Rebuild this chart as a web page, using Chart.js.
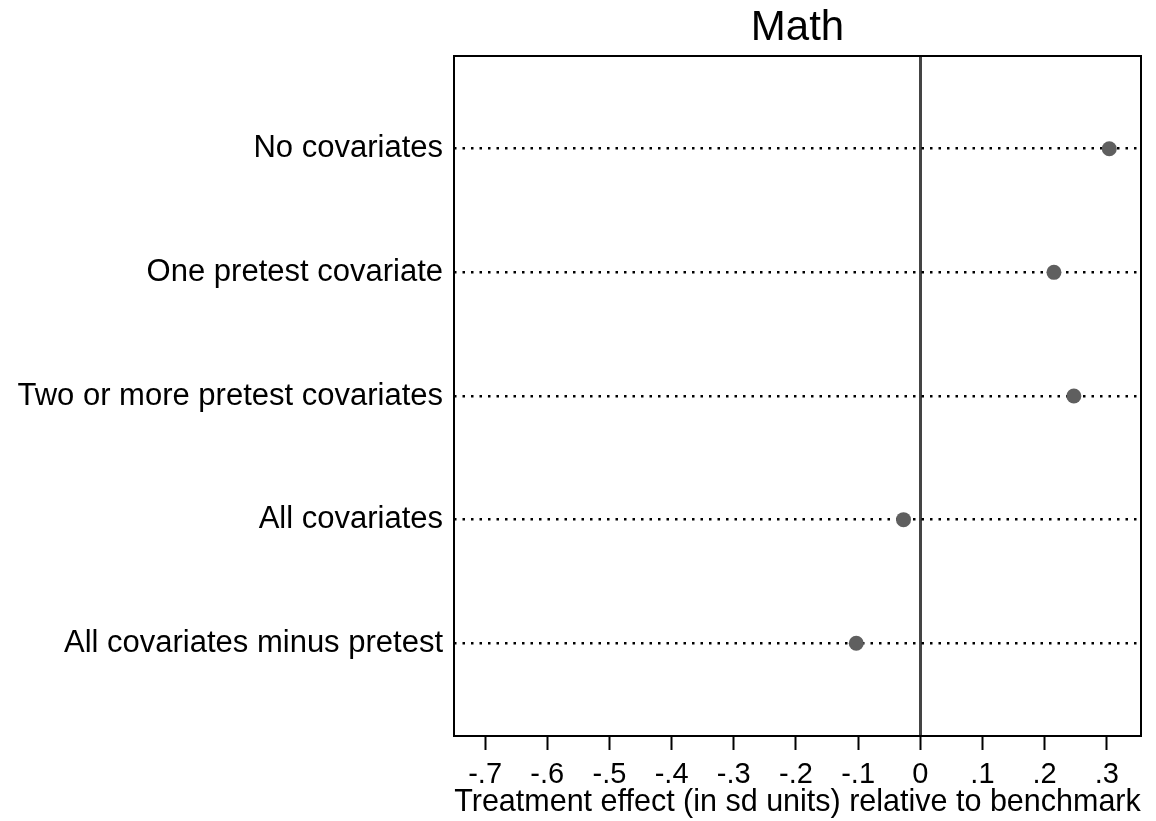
<!DOCTYPE html>
<html>
<head>
<meta charset="utf-8">
<script src="https://cdn.jsdelivr.net/npm/chart.js@4/dist/chart.umd.min.js"></script>
<style>
  body { margin: 0; background: #fff; }
  #wrap { width: 1156px; height: 821px; }
</style>
</head>
<body>
<div id="wrap"><canvas id="chart"></canvas></div>
<script>
// Specifications, top to bottom
const categories = [
    'No covariates',
    'One pretest covariate',
    'Two or more pretest covariates',
    'All covariates',
    'All covariates minus pretest'
];
// Treatment effect (sd units) relative to benchmark
const effects = [0.304, 0.215, 0.247, -0.027, -0.103];
const xTicks = [-0.7, -0.6, -0.5, -0.4, -0.3, -0.2, -0.1, 0, 0.1, 0.2, 0.3];

const FONT = '"Liberation Sans", Arial, Helvetica, sans-serif';

// Stata-style ".3" / "-.7" labels
function stataNum(v) {
    if (v === 0) return '0';
    const s = (Math.round(v * 10) / 10).toString();
    return s.replace('0.', '.');
}

// Full box around the plot region
const boxPlugin = {
    id: 'plotBox',
    beforeDatasetsDraw(chart) {
        const {ctx, chartArea: a} = chart;
        ctx.save();
        ctx.strokeStyle = '#000';
        ctx.lineWidth = 2;
        ctx.strokeRect(a.left, a.top, a.right - a.left, a.bottom - a.top);
        ctx.restore();
    }
};

const points = effects.map((v, i) => ({x: v, y: i + 1}));

new Chart(document.getElementById('chart').getContext('2d'), {
    type: 'scatter',
    data: {
        datasets: [{
            data: points,
            backgroundColor: '#5f5f5f',
            borderWidth: 0,
            pointRadius: 7.5
        }]
    },
    options: {
        responsive: true,
        maintainAspectRatio: false,
        animation: false,
        layout: { padding: { left: 0, right: 15, top: 0, bottom: 0 } },
        plugins: {
            legend: { display: false },
            tooltip: { enabled: false },
            title: {
                display: true,
                text: 'Math',
                fullSize: false,
                color: '#000',
                font: { family: FONT, size: 42, weight: 'normal' },
                padding: { top: 3, bottom: 2.6 }
            }
        },
        scales: {
            x: {
                type: 'linear',
                min: -0.75,
                max: 0.355,
                afterBuildTicks: (scale) => {
                    scale.ticks = xTicks.map(v => ({value: v}));
                },
                afterFit: (scale) => { scale.height = 85; },
                ticks: {
                    color: '#000',
                    font: { family: FONT, size: 29 },
                    padding: 8,
                    maxRotation: 0,
                    autoSkip: false,
                    callback: (v) => stataNum(v)
                },
                grid: {
                    color: (c) => (c.tick && c.tick.value === 0) ? '#444' : 'rgba(0,0,0,0)',
                    lineWidth: 3,
                    tickColor: '#000',
                    tickWidth: 2,
                    tickLength: 14
                },
                border: { display: false },
                title: {
                    display: true,
                    text: 'Treatment effect (in sd units) relative to benchmark',
                    color: '#000',
                    font: { family: FONT, size: 30.5 },
                    padding: { top: 0, bottom: 0 }
                }
            },
            y: {
                type: 'linear',
                reverse: true,
                min: 0.25,
                max: 5.75,
                afterBuildTicks: (scale) => {
                    scale.ticks = categories.map((c, i) => ({value: i + 1}));
                },
                afterFit: (scale) => { scale.width = 454; },
                ticks: {
                    color: '#000',
                    font: { family: FONT, size: 31 },
                    padding: 11,
                    autoSkip: false,
                    callback: (v) => categories[v - 1]
                },
                grid: {
                    color: '#000',
                    lineWidth: 2.5,
                    drawTicks: false
                },
                border: { display: false, dash: [2.5, 6] }
            }
        }
    },
    plugins: [boxPlugin]
});
</script>
</body>
</html>
